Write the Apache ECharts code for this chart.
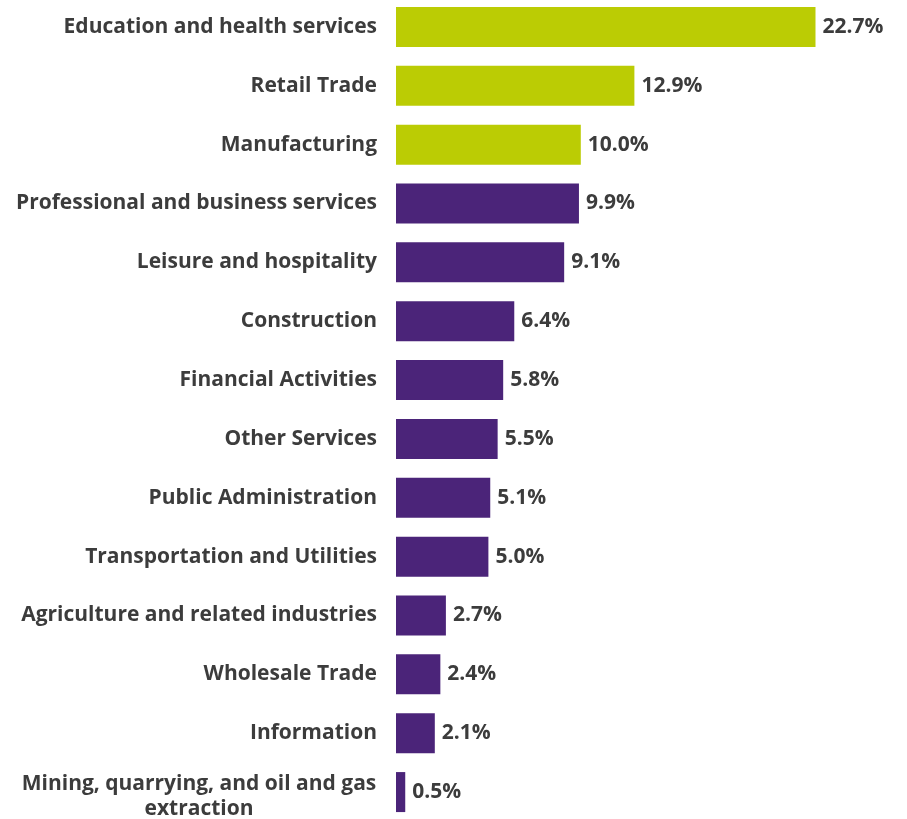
<!DOCTYPE html>
<html>
<head>
<meta charset="utf-8">
<script src="https://cdn.jsdelivr.net/npm/echarts@6/dist/echarts.min.js"></script>
<style>
  html, body { margin: 0; padding: 0; background: #fff; overflow: hidden; }
  #chart { position: absolute; left: 0; top: -3px; width: 907px; height: 825px; }
</style>
</head>
<body>
<div id="chart"></div>
<script>
// Share of employment by industry, largest first
const industries = [
  'Education and health services',
  'Retail Trade',
  'Manufacturing',
  'Professional and business services',
  'Leisure and hospitality',
  'Construction',
  'Financial Activities',
  'Other Services',
  'Public Administration',
  'Transportation and Utilities',
  'Agriculture and related industries',
  'Wholesale Trade',
  'Information',
  'Mining, quarrying, and oil and gas extraction'
];
const shares = [22.7, 12.9, 10.0, 9.9, 9.1, 6.4, 5.8, 5.5, 5.1, 5.0, 2.7, 2.4, 2.1, 0.5];
// The three largest industries are highlighted
const highlightCount = 3;

const GREEN = '#BBCC04';
const PURPLE = '#4B2479';
const TEXT = '#3C3C3C';
const FONT = '"Open Sans", sans-serif';
const SIZE = 21;
const WRAP_AT = 36;

const chart = echarts.init(document.getElementById('chart'));
chart.setOption({
  animation: false,
  grid: { left: 396, top: 0.5, width: 462, height: 824, containLabel: false },
  xAxis: {
    type: 'value', min: 0, max: 25, show: false
  },
  yAxis: {
    type: 'category',
    inverse: true,
    // wrapped (two-line) names sit slightly lower next to their bar
    data: industries.map(name => name.length > WRAP_AT
      ? { value: name, textStyle: { padding: [8, 0, 0, 0] } }
      : name),
    axisLine: { show: false },
    axisTick: { show: false },
    axisLabel: {
      margin: 19,
      color: TEXT,
      fontFamily: FONT,
      fontWeight: 'bold',
      fontSize: SIZE,
      align: 'right',
      formatter: function (v) {
        // long names wrap onto a second, centred line
        if (v.length > WRAP_AT) {
          const cut = v.lastIndexOf(' ', WRAP_AT);
          return '{w|' + v.slice(0, cut) + '\n' + v.slice(cut + 1) + '}';
        }
        return v;
      },
      rich: {
        w: {
          width: 356, align: 'center', lineHeight: 25,
          color: TEXT, fontFamily: FONT, fontWeight: 'bold', fontSize: SIZE
        }
      }
    }
  },
  series: [{
    type: 'bar',
    barWidth: 40,
    data: shares.map((v, i) => ({
      value: v,
      itemStyle: { color: i < highlightCount ? GREEN : PURPLE }
    })),
    label: {
      show: true,
      position: 'right',
      distance: 7,
      color: TEXT,
      fontFamily: FONT,
      fontWeight: 'bold',
      fontSize: SIZE,
      formatter: p => p.value.toFixed(1) + '%'
    }
  }]
});
</script>
</body>
</html>
